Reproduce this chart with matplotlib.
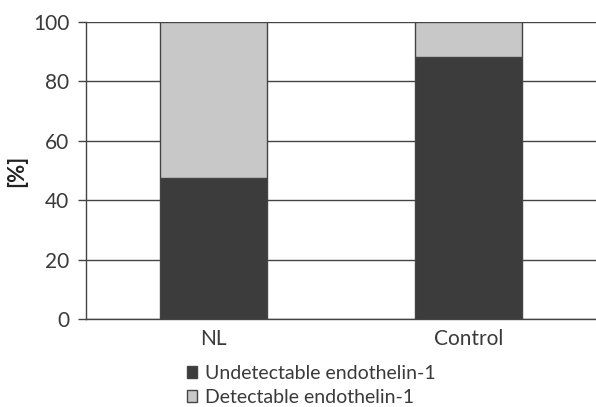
import matplotlib
matplotlib.use("Agg")
import matplotlib.pyplot as plt
from matplotlib.patches import Patch

categories = ["NL", "Control"]
undetectable = [47.5, 88.2]
detectable = [52.5, 11.8]
yticks = [0, 20, 40, 60, 80, 100]
legend_labels = ["Undetectable endothelin-1", "Detectable endothelin-1"]

dark = "#3c3c3c"
light = "#c8c8c8"
edge = "#444444"

plt.rcParams['font.family'] = ['Lato', 'DejaVu Sans']

fig = plt.figure(figsize=(5.96, 4.07), dpi=100)
ax = fig.add_axes([86/596, 1-319/407, 1-86/596, (319-22)/407])

x = list(range(len(categories)))
ax.set_axisbelow(True)
ax.yaxis.grid(True, color="#444444", linewidth=1.0)
ax.bar(x, undetectable, width=0.42, color=dark, edgecolor=edge, linewidth=1.0)
ax.bar(x, detectable, width=0.42, bottom=undetectable, color=light, edgecolor=edge, linewidth=1.0)

ax.set_xlim(-0.5, 1.5)
ax.set_ylim(0, 100)
ax.set_yticks(yticks)
ax.set_xticks(x)
ax.set_xticklabels(categories)
ax.tick_params(axis='y', length=6, width=1, color="#444444", labelsize=15, labelcolor="#3a3a3a", pad=6)
ax.tick_params(axis='x', length=0, labelsize=15, labelcolor="#3a3a3a", pad=7)
for s in ["top", "right"]:
    ax.spines[s].set_visible(False)
for s in ["left", "bottom"]:
    ax.spines[s].set_color("#444444")
    ax.spines[s].set_linewidth(1.0)
ax.set_ylabel("[%]", fontsize=16, fontweight="bold", color="#222222", labelpad=4)

handles = [Patch(facecolor=dark, edgecolor=edge), Patch(facecolor=light, edgecolor=edge)]
fig.legend(handles, legend_labels, loc="upper left", bbox_to_anchor=(177/596, 1-355/407),
           frameon=False, handlelength=0.55, handleheight=0.55,
           handletextpad=0.4, labelspacing=0.38, borderpad=0, labelcolor="#3a3a3a",
           prop={'size': 14})

fig.savefig("out.png", dpi=100)
